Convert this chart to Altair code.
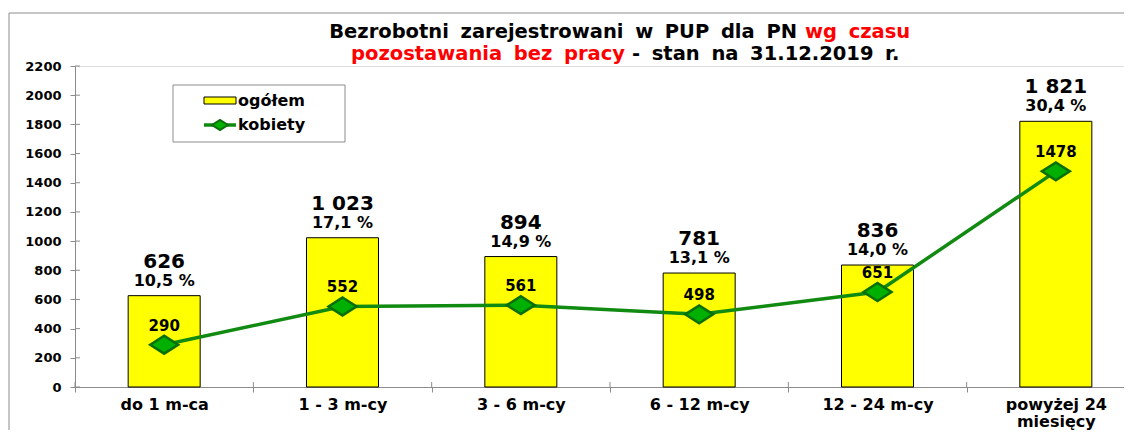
import altair as alt
import pandas as pd

categories = ["do 1 m-ca", "1 - 3 m-cy", "3 - 6 m-cy", "6 - 12 m-cy", "12 - 24 m-cy", "powyżej 24 miesięcy"]
total = [626, 1023, 894, 781, 836, 1821]
women = [290, 552, 561, 498, 651, 1478]
total_labels = ["626", "1 023", "894", "781", "836", "1 821"]
pct_labels = ["10,5 %", "17,1 %", "14,9 %", "13,1 %", "14,0 %", "30,4 %"]
y_ticks = [0, 200, 400, 600, 800, 1000, 1200, 1400, 1600, 1800, 2000, 2200]

title_line1 = ["Bezrobotni zarejestrowani w PUP dla PN", "wg czasu"]
title_line2 = ["pozostawania bez pracy", "- stan na 31.12.2019 r."]
legend_labels = ["ogółem", "kobiety"]

FONT = "DejaVu Sans"
YELLOW = "#FFFF00"
GREEN_LINE = "#118A11"
GREEN_FILL = "#00B000"
GREEN_STROKE = "#0A6E0A"
GRAY = "#8C8C8C"
DIAMOND = "M-1,0L0,-0.64L1,0L0,0.64Z"
TFS = 19.5


def wide(s):
    return s.replace(" ", "\u00a0\u2005")


df = pd.DataFrame({
    "cat": categories,
    "total": total,
    "women": women,
    "tlab": total_labels,
    "plab": pct_labels,
})

xscale = alt.Scale(range=[0, 1070], paddingInner=0, paddingOuter=0)
yscale = alt.Scale(domain=[0, 2200], nice=False)

xaxis = alt.Axis(
    title=None, labelAngle=0, tickBand="extent", tickSize=5, tickColor=GRAY,
    domainColor=GRAY, labelFont=FONT, labelFontSize=16, labelFontWeight="bold",
    labelColor="black", labelPadding=4, labelLineHeight=17,
    labelExpr="datum.label == 'powyżej 24 miesięcy' ? ['powyżej 24', 'miesięcy'] : datum.label",
)
yaxis = alt.Axis(
    title=None, values=y_ticks, format="d", labelOverlap=False, grid=False, tickSize=5,
    tickColor=GRAY, domainColor=GRAY,
    labelFont=FONT, labelFontSize=13, labelFontWeight="bold", labelColor="black", labelPadding=9,
)


def X(**kw):
    return alt.X("cat:N", sort=categories, scale=xscale, axis=xaxis, **kw)


def Y(field):
    return alt.Y(field, scale=yscale, axis=yaxis)


base = alt.Chart(df)

# inner halves of the crossing tick marks
xticks_in = base.mark_rule(color=GRAY, strokeWidth=1).encode(
    x=X(bandPosition=0), y=alt.value(316), y2=alt.value(321)
)
yticks_in = alt.Chart(pd.DataFrame({"v": y_ticks})).mark_rule(color=GRAY, strokeWidth=1).encode(
    y=Y("v:Q"), x=alt.value(0), x2=alt.value(5)
)

bars = base.mark_bar(size=72, color=YELLOW, stroke="black", strokeWidth=1).encode(
    x=X(), y=Y("total:Q")
)
tot_text = base.mark_text(font=FONT, fontSize=20, fontWeight="bold", dy=-34, baseline="middle", color="black").encode(
    x=X(), y=Y("total:Q"), text="tlab:N"
)
pct_text = base.mark_text(font=FONT, fontSize=16, fontWeight="bold", dy=-15, baseline="middle", color="black").encode(
    x=X(), y=Y("total:Q"), text="plab:N"
)
line = base.mark_line(color=GREEN_LINE, strokeWidth=3.5).encode(
    x=X(), y=Y("women:Q")
)
pts = base.mark_point(shape=DIAMOND, size=784, filled=True, fill=GREEN_FILL, stroke=GREEN_STROKE,
                      strokeWidth=2.5, opacity=1).encode(
    x=X(), y=Y("women:Q")
)
w_text = base.mark_text(font=FONT, fontSize=15, fontWeight="bold", dy=-19, baseline="middle", color="black").encode(
    x=X(), y=Y("women:Q"), text=alt.Text("women:Q", format="d")
)

# decorative frame
frame_df = pd.DataFrame({"k": [0]})
frame_left = alt.Chart(frame_df).mark_rule(color=GRAY, strokeWidth=1).encode(
    x=alt.value(-66), y=alt.value(-53), y2=alt.value(420)
)
frame_top = alt.Chart(frame_df).mark_rule(color=GRAY, strokeWidth=1).encode(
    x=alt.value(-66), x2=alt.value(1200), y=alt.value(-53)
)

# title (mixed colours)
t1a = alt.Chart(pd.DataFrame({"t": [wide(title_line1[0])]})).mark_text(
    font=FONT, fontSize=TFS, fontWeight="bold", align="right", baseline="alphabetic", color="black"
).encode(text="t:N", x=alt.value(722), y=alt.value(-28))
t1b = alt.Chart(pd.DataFrame({"t": [wide(title_line1[1])]})).mark_text(
    font=FONT, fontSize=TFS, fontWeight="bold", align="left", baseline="alphabetic", color="#FF0000"
).encode(text="t:N", x=alt.value(730), y=alt.value(-28))
t2a = alt.Chart(pd.DataFrame({"t": [wide(title_line2[0])]})).mark_text(
    font=FONT, fontSize=TFS, fontWeight="bold", align="right", baseline="alphabetic", color="#FF0000"
).encode(text="t:N", x=alt.value(550), y=alt.value(-6))
t2b = alt.Chart(pd.DataFrame({"t": [wide(title_line2[1])]})).mark_text(
    font=FONT, fontSize=TFS, fontWeight="bold", align="left", baseline="alphabetic", color="black"
).encode(text="t:N", x=alt.value(557), y=alt.value(-6))

# legend
leg_df = pd.DataFrame({"k": [0]})
leg_box = alt.Chart(leg_df).mark_rect(fill="white", stroke=GRAY, strokeWidth=1).encode(
    x=alt.value(98), x2=alt.value(270), y=alt.value(19), y2=alt.value(76)
)
leg_sw = alt.Chart(leg_df).mark_rect(fill=YELLOW, stroke="black", strokeWidth=1).encode(
    x=alt.value(129), x2=alt.value(161), y=alt.value(31), y2=alt.value(38)
)
leg_line = alt.Chart(leg_df).mark_rule(color=GREEN_LINE, strokeWidth=3.5).encode(
    x=alt.value(129), x2=alt.value(161), y=alt.value(59)
)
leg_pt = alt.Chart(leg_df).mark_point(shape=DIAMOND, size=256, filled=True, fill=GREEN_FILL,
                                      stroke=GREEN_STROKE, strokeWidth=2, opacity=1).encode(
    x=alt.value(145), y=alt.value(59)
)
leg_t1 = alt.Chart(pd.DataFrame({"t": [legend_labels[0]]})).mark_text(
    font=FONT, fontSize=16, fontWeight="bold", align="left", baseline="middle", color="black"
).encode(text="t:N", x=alt.value(163), y=alt.value(35))
leg_t2 = alt.Chart(pd.DataFrame({"t": [legend_labels[1]]})).mark_text(
    font=FONT, fontSize=16, fontWeight="bold", align="left", baseline="middle", color="black"
).encode(text="t:N", x=alt.value(163), y=alt.value(59))

chart = alt.layer(
    frame_left, frame_top, xticks_in, yticks_in, bars, tot_text, pct_text, line, pts, w_text,
    t1a, t1b, t2a, t2b, leg_box, leg_sw, leg_line, leg_pt, leg_t1, leg_t2,
).properties(
    width=1049, height=321,
    autosize=alt.AutoSizeParams(type="none"),
    padding={"left": 67, "top": 58, "right": 0, "bottom": 43},
).configure_view(stroke=None).configure(background="white")

chart.save("out.html", embed_options={"renderer": "svg", "actions": False})
